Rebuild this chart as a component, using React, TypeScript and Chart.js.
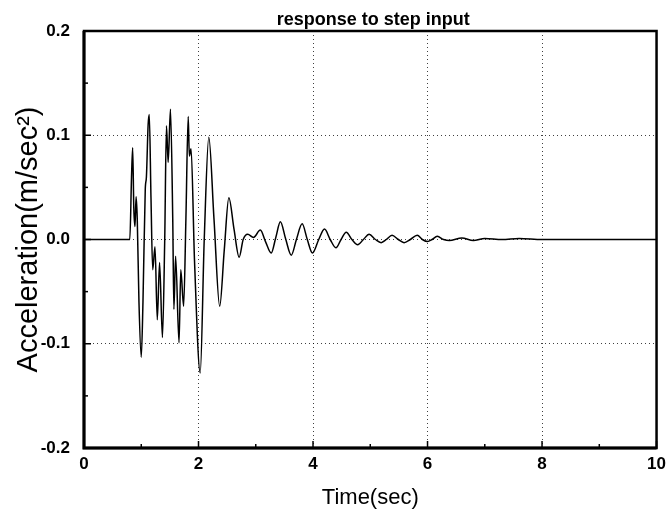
import React, { useEffect, useRef } from "react";
import { Chart, registerables } from "chart.js";

Chart.register(...registerables);

// Time (sec) and acceleration (m/sec^2)
const timeSec: number[] = [
  0, 0.8, 0.83, 0.85, 0.87, 0.89, 0.91, 0.93, 0.96, 1.0, 1.03, 1.07, 1.09, 1.12, 1.14,
  1.17, 1.2, 1.24, 1.28, 1.32, 1.37, 1.41, 1.44, 1.47, 1.51, 1.55, 1.57, 1.6, 1.66,
  1.69, 1.74, 1.78, 1.82, 1.84, 1.87, 1.93, 2.03, 2.1, 2.18, 2.27, 2.37, 2.45, 2.53,
  2.62, 2.71, 2.78, 2.86, 2.96, 3.08, 3.17, 3.27, 3.35, 3.43, 3.52, 3.62, 3.71, 3.81,
  3.9, 3.99, 4.1, 4.2, 4.3, 4.4, 4.49, 4.58, 4.68, 4.78, 4.88, 4.98, 5.09, 5.19, 5.28,
  5.38, 5.49, 5.59, 5.7, 5.82, 5.91, 6.0, 6.08, 6.17, 6.28, 6.38, 6.6, 6.8, 7.0, 7.3,
  7.6, 8.0, 8.5, 9.0, 10.0,
];
const accel: number[] = [
  0, 0, 0.06, 0.088, 0.03, 0.0125, 0.041, 0.02, -0.06, -0.113, -0.06, 0.048, 0.06, 0.11,
  0.12, 0.04, -0.029, -0.007, -0.077, -0.022, -0.094, 0.0, 0.109, 0.074, 0.125, 0.02,
  -0.067, -0.016, -0.099, -0.029, -0.064, 0.02, 0.118, 0.08, 0.087, -0.02, -0.128, 0.0,
  0.098, 0.02, -0.064, -0.01, 0.04, 0.01, -0.017, 0.0, 0.005, 0.002, 0.009, -0.002,
  -0.013, 0.002, 0.017, 0.001, -0.015, 0.0, 0.015, 0.0, -0.013, 0.0, 0.01, 0.0, -0.008,
  0.0, 0.007, 0.0, -0.005, 0.0, 0.005, 0.0, -0.003, 0.0, 0.004, 0.0, -0.003, 0.0, 0.004,
  0.0, -0.002, 0.0, 0.003, 0.0, -0.001, 0.0015, -0.001, 0.001, 0.0, 0.001, 0.0, 0.0,
  0.0, 0.0,
];

// Inward tick marks (minor + major)
const xTickMarks: number[] = [0, 1, 2, 3, 4, 5, 6, 7, 8, 9, 10];
const xMajorTicks: number[] = [0, 2, 4, 6, 8, 10];
const yTickMarks: number[] = [-0.2, -0.15, -0.1, -0.05, 0, 0.05, 0.1, 0.15, 0.2];
const yMajorTicks: number[] = [-0.2, -0.1, 0, 0.1, 0.2];

const chartTitle = "response to step input";
const xTitle = "Time(sec)";
const yTitle = "Acceleration(m/sec\u00B2)";

const FONT = "'Liberation Sans', Arial, Helvetica, sans-serif";

const framePlugin = {
  id: "frameTicks",
  afterDraw(chart: any) {
    const { ctx, chartArea: a, scales } = chart;
    ctx.save();
    ctx.strokeStyle = "#000";
    ctx.lineWidth = 1.5;
    xTickMarks.forEach((v) => {
      const px = scales.x.getPixelForValue(v);
      const len = xMajorTicks.includes(v) ? 7 : 4;
      ctx.beginPath();
      ctx.moveTo(px, a.bottom);
      ctx.lineTo(px, a.bottom - len);
      ctx.stroke();
    });
    yTickMarks.forEach((v) => {
      const py = scales.y.getPixelForValue(v);
      const len = yMajorTicks.some((m) => Math.abs(m - v) < 1e-9) ? 7 : 4;
      ctx.beginPath();
      ctx.moveTo(a.left, py);
      ctx.lineTo(a.left + len, py);
      ctx.stroke();
    });
    ctx.lineWidth = 2.5;
    ctx.strokeRect(a.left, a.top, a.right - a.left, a.bottom - a.top);
    ctx.lineWidth = 3;
    ctx.beginPath();
    ctx.moveTo(a.left, a.top);
    ctx.lineTo(a.left, a.bottom);
    ctx.lineTo(a.right, a.bottom);
    ctx.stroke();
    // chart title, centred over the plot area
    ctx.fillStyle = "#000";
    ctx.font = `bold 18px ${FONT}`;
    ctx.textAlign = "center";
    ctx.textBaseline = "alphabetic";
    ctx.fillText(chartTitle, (a.left + a.right) / 2 + 3, 25);
    ctx.restore();
  },
};

export default function App() {
  const ref = useRef<HTMLCanvasElement | null>(null);

  useEffect(() => {
    document.body.style.margin = "0";
    const canvas = ref.current;
    if (!canvas) return;
    const chart = new Chart(canvas, {
      type: "line",
      data: {
        datasets: [
          {
            data: timeSec.map((t, i) => ({ x: t, y: accel[i] })),
            borderColor: "#000",
            borderWidth: 1.5,
            pointRadius: 0,
            cubicInterpolationMode: "monotone",
            fill: false,
          },
        ],
      },
      options: {
        animation: false,
        responsive: false,
        layout: { padding: { left: 0, right: 14, top: 31, bottom: 0 } },
        plugins: {
          legend: { display: false },
          tooltip: { enabled: false },
          title: { display: false },
        },
        scales: {
          x: {
            type: "linear",
            min: 0,
            max: 10,
            afterFit: (s: any) => {
              s.height = 68;
            },
            ticks: {
              stepSize: 2,
              color: "#000",
              padding: 6,
              maxRotation: 0,
              font: { family: FONT, size: 17, weight: "bold" },
            },
            grid: { color: "rgba(0,0,0,0.75)", lineWidth: 1, drawTicks: false },
            border: { display: true, color: "#000", width: 2, dash: [1, 3] },
            title: {
              display: true,
              text: xTitle,
              color: "#000",
              font: { family: FONT, size: 22 },
              padding: { top: 0, bottom: 5 },
            },
          },
          y: {
            type: "linear",
            min: -0.2,
            max: 0.2,
            afterFit: (s: any) => {
              s.width = 84;
            },
            ticks: {
              stepSize: 0.1,
              color: "#000",
              padding: 14,
              font: { family: FONT, size: 17, weight: "bold" },
              callback: (v: any) => Number(v).toFixed(1),
            },
            grid: { color: "rgba(0,0,0,0.75)", lineWidth: 1, drawTicks: false },
            border: { display: true, color: "#000", width: 2, dash: [1, 3] },
            title: {
              display: true,
              text: yTitle,
              color: "#000",
              font: { family: FONT, size: 29 },
              padding: { top: 12, bottom: 0 },
            },
          },
        },
      },
      plugins: [framePlugin],
    });
    return () => chart.destroy();
  }, []);

  return (
    <div style={{ position: "absolute", left: 0, top: 0, width: 672, height: 516, background: "#fff" }}>
      <canvas ref={ref} width={672} height={516} />
    </div>
  );
}
